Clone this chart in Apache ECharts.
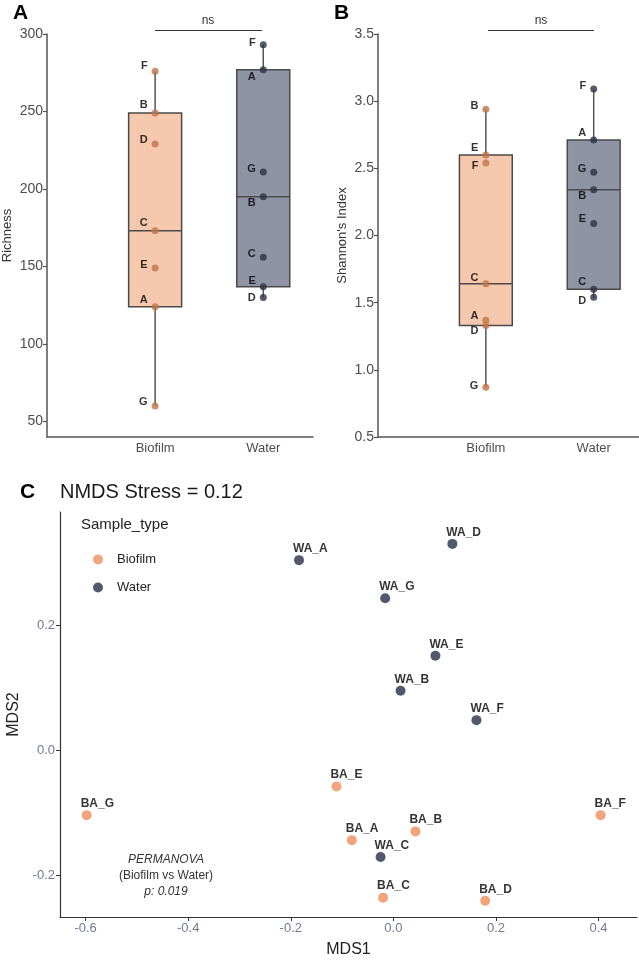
<!DOCTYPE html>
<html>
<head>
<meta charset="utf-8">
<script src="https://cdn.jsdelivr.net/npm/echarts@6/dist/echarts.min.js"></script>
<style>
  html, body { margin: 0; padding: 0; background: #fff; }
  #main { width: 639px; height: 960px; }
</style>
</head>
<body>
<div id="main"></div>
<script>
// data
var groups = ['Biofilm', 'Water'];
var sampleIds = ['A', 'B', 'C', 'D', 'E', 'F', 'G'];

// panel A - richness
var richnessBiofilm = [124, 249, 173, 229, 149, 276, 60];
var richnessWater = [277, 195, 156, 130, 137, 293, 211];
// panel B - shannon
var shannonBiofilm = [1.37, 2.94, 1.64, 1.33, 2.60, 2.54, 0.87];
var shannonWater = [2.71, 2.34, 1.60, 1.54, 2.09, 3.09, 2.47];

// panel C - NMDS
var biofilmNames = ['BA_A', 'BA_B', 'BA_C', 'BA_D', 'BA_E', 'BA_F', 'BA_G'];
var biofilmMDS1 = [-0.081, 0.043, -0.020, 0.179, -0.111, 0.404, -0.598];
var biofilmMDS2 = [-0.144, -0.130, -0.236, -0.241, -0.058, -0.104, -0.104];
var waterNames = ['WA_A', 'WA_B', 'WA_C', 'WA_D', 'WA_E', 'WA_F', 'WA_G'];
var waterMDS1 = [-0.184, 0.014, -0.025, 0.115, 0.082, 0.162, -0.016];
var waterMDS2 = [0.304, 0.095, -0.171, 0.330, 0.151, 0.048, 0.243];

// tick labels
var richTicks = [50, 100, 150, 200, 250, 300];
var shannonTicks = [0.5, 1, 1.5, 2, 2.5, 3, 3.5];
var mds1Ticks = [-0.6, -0.4, -0.2, 0, 0.2, 0.4];
var mds2Ticks = [-0.2, 0, 0.2];

// vertical nudge of the letter labels (px), order A..G
var nudgeRichBio = [-7, -8, -8, -4, -3, -5, -4];
var nudgeRichWat = [7, 6, -3, 0, -6, -2, -3];
var nudgeShanBio = [-4, -3, -6, 5, -7, 3, -1];
var nudgeShanWat = [-7, 6, -7, 4, -4, -3, -3];

var FONT = 'Liberation Sans';
var boxFill = ['#F6C8AD', '#8F94A4'];
var dotCol = ['#C27449', '#2C3245'];
var nmdsCol = ['#EF8F5B', '#263048'];

// quartiles (type 6) + whiskers, like the box in the figure
function q6(s, p) {
  var n = s.length, h = p * (n + 1), lo = Math.floor(h);
  if (lo < 1) return s[0];
  if (lo >= n) return s[n - 1];
  return s[lo - 1] + (h - lo) * (s[lo] - s[lo - 1]);
}
function boxStats(vals, x) {
  var s = vals.slice().sort(function(a, b){ return a - b; });
  var q1 = q6(s, 0.25), med = q6(s, 0.5), q3 = q6(s, 0.75), iqr = q3 - q1;
  var inR = s.filter(function(v){ return v >= q1 - 1.5 * iqr && v <= q3 + 1.5 * iqr; });
  return [x, inR[0], q1, med, q3, inR[inR.length - 1]];
}

function renderBox(params, api) {
  var x = api.value(0), half = 0.245;
  var pLo = api.coord([x, api.value(1)]);
  var pHi = api.coord([x, api.value(5)]);
  var a = api.coord([x - half, api.value(2)]);
  var b = api.coord([x + half, api.value(4)]);
  var mL = api.coord([x - half, api.value(3)]);
  var mR = api.coord([x + half, api.value(3)]);
  return {
    type: 'group',
    children: [
      { type: 'line', shape: { x1: pLo[0], y1: pLo[1], x2: pHi[0], y2: pHi[1] }, style: { stroke: '#555', lineWidth: 1.5 } },
      { type: 'rect', shape: { x: a[0], y: b[1], width: b[0] - a[0], height: a[1] - b[1] }, style: { fill: boxFill[params.dataIndex], stroke: '#4a4a4a', lineWidth: 1.5 } },
      { type: 'line', shape: { x1: mL[0], y1: mL[1], x2: mR[0], y2: mR[1] }, style: { stroke: '#4a4a4a', lineWidth: 1.5 } }
    ]
  };
}

function dotData(vals, x, nudge) {
  return vals.map(function(v, i){
    return { value: [x, v, sampleIds[i]], label: { offset: [0, nudge[i]] } };
  });
}
function nmdsData(xs, ys, names) {
  return xs.map(function(v, i){ return [v, ys[i], names[i]]; });
}

var dotLabel = {
  show: true, position: 'left', distance: 4,
  formatter: function(p){ return p.value[2]; },
  color: '#000', fontSize: 11, fontWeight: 'bold', fontFamily: FONT
};
var nmdsLabel = {
  show: true, position: 'top', distance: 0, align: 'left', verticalAlign: 'middle',
  offset: [-6, -6.5],
  formatter: function(p){ return p.value[2]; },
  color: '#000', fontSize: 12, fontWeight: 'bold', fontFamily: FONT
};

function boxYAxis(grid, min, max, ticks, name, gap, fmt) {
  return {
    type: 'value', gridIndex: grid, min: min, max: max,
    name: name, nameLocation: 'middle', nameGap: gap,
    nameTextStyle: { fontSize: 13, color: '#333', fontFamily: FONT },
    axisLine: { show: true, onZero: false, lineStyle: { color: '#555', width: 1.5 } },
    axisTick: { show: true, length: 4, customValues: ticks, lineStyle: { color: '#555', width: 1.2 } },
    axisLabel: { customValues: ticks, formatter: fmt, color: '#4d4d4d', fontSize: 14, margin: 4, fontFamily: FONT },
    splitLine: { show: false }
  };
}
function boxXAxis(grid, max) {
  return {
    type: 'value', gridIndex: grid, min: 0, max: max,
    axisLine: { show: true, onZero: false, lineStyle: { color: '#555', width: 1.5 } },
    axisTick: { show: false },
    axisLabel: { customValues: [1, 2], formatter: function(v){ return groups[Math.round(v) - 1]; },
      color: '#4d4d4d', fontSize: 13, margin: 5, fontFamily: FONT },
    splitLine: { show: false }
  };
}

var chart = echarts.init(document.getElementById('main'));
var option = {
  backgroundColor: '#fff',
  animation: false,
  textStyle: { fontFamily: FONT },
  grid: [
    { left: 47, top: 34, width: 266, height: 403, outerBoundsMode: 'none' },
    { left: 378, top: 34, width: 261, height: 403, outerBoundsMode: 'none' },
    { left: 60, top: 512, width: 577, height: 405, outerBoundsMode: 'none' }
  ],
  xAxis: [
    boxXAxis(0, 2.46),
    boxXAxis(1, 2.42),
    {
      type: 'value', gridIndex: 2, min: -0.65, max: 0.475,
      name: 'MDS1', nameLocation: 'middle', nameGap: 25,
      nameTextStyle: { fontSize: 16, color: '#222', fontFamily: FONT },
      axisLine: { show: true, onZero: false, lineStyle: { color: '#333', width: 1.2 } },
      axisTick: { show: true, length: 4, customValues: mds1Ticks, lineStyle: { color: '#333' } },
      axisLabel: { customValues: mds1Ticks, formatter: function(v){ return v.toFixed(1); },
        color: '#6E7B96', fontSize: 13, margin: 5, fontFamily: FONT },
      splitLine: { show: false }
    }
  ],
  yAxis: [
    boxYAxis(0, 40, 300, richTicks, 'Richness', 33, function(v){ return String(v); }),
    boxYAxis(1, 0.5, 3.5, shannonTicks, "Shannon's Index", 29, function(v){ return v.toFixed(1); }),
    {
      type: 'value', gridIndex: 2, min: -0.267, max: 0.381,
      name: 'MDS2', nameLocation: 'middle', nameGap: 37,
      nameTextStyle: { fontSize: 16, color: '#222', fontFamily: FONT },
      axisLine: { show: true, onZero: false, lineStyle: { color: '#333', width: 1.2 } },
      axisTick: { show: true, length: 4, customValues: mds2Ticks, lineStyle: { color: '#333' } },
      axisLabel: { customValues: mds2Ticks, formatter: function(v){ return v.toFixed(1); },
        color: '#6E7B96', fontSize: 13, margin: 5, fontFamily: FONT },
      splitLine: { show: false }
    }
  ],
  legend: {
    data: groups, orient: 'vertical', left: 88, top: 548,
    icon: 'circle', itemWidth: 10, itemHeight: 10, itemGap: 15,
    textStyle: { fontSize: 13, color: '#222', fontFamily: FONT, padding: [0, 0, 0, 9] },
    selectedMode: false
  },
  graphic: [
    { type: 'text', left: 13, top: 3, style: { text: 'A', fontSize: 21, fontWeight: 'bold', fill: '#000', fontFamily: FONT } },
    { type: 'text', left: 334, top: 3, style: { text: 'B', fontSize: 21, fontWeight: 'bold', fill: '#000', fontFamily: FONT } },
    { type: 'text', left: 20, top: 482, style: { text: 'C', fontSize: 21, fontWeight: 'bold', fill: '#000', fontFamily: FONT } },
    { type: 'text', left: 60, top: 482, style: { text: 'NMDS Stress = 0.12', fontSize: 20, fill: '#1a1a1a', fontFamily: FONT } },
    { type: 'text', left: 81, top: 517, style: { text: 'Sample_type', fontSize: 15, fill: '#222', fontFamily: FONT } },
    // ns brackets
    { type: 'line', shape: { x1: 155, y1: 30.5, x2: 262, y2: 30.5 }, style: { stroke: '#333', lineWidth: 1 } },
    { type: 'text', x: 208, y: 21, style: { text: 'ns', fontSize: 12, fill: '#333', align: 'center', verticalAlign: 'middle', fontFamily: FONT } },
    { type: 'line', shape: { x1: 488, y1: 30.5, x2: 594, y2: 30.5 }, style: { stroke: '#333', lineWidth: 1 } },
    { type: 'text', x: 541, y: 21, style: { text: 'ns', fontSize: 12, fill: '#333', align: 'center', verticalAlign: 'middle', fontFamily: FONT } },
    // PERMANOVA note
    { type: 'text', x: 166, y: 860, style: { text: 'PERMANOVA', fontSize: 12, fontStyle: 'italic', fill: '#333', align: 'center', verticalAlign: 'middle', fontFamily: FONT } },
    { type: 'text', x: 166, y: 876, style: { text: '(Biofilm vs Water)', fontSize: 12, fill: '#333', align: 'center', verticalAlign: 'middle', fontFamily: FONT } },
    { type: 'text', x: 166, y: 892, style: { text: 'p: 0.019', fontSize: 12, fontStyle: 'italic', fill: '#333', align: 'center', verticalAlign: 'middle', fontFamily: FONT } }
  ],
  series: [
    { type: 'custom', name: 'richness box', xAxisIndex: 0, yAxisIndex: 0, renderItem: renderBox,
      encode: { x: 0, y: [1, 2, 3, 4, 5] },
      data: [boxStats(richnessBiofilm, 1), boxStats(richnessWater, 2)] },
    { type: 'custom', name: 'shannon box', xAxisIndex: 1, yAxisIndex: 1, renderItem: renderBox,
      encode: { x: 0, y: [1, 2, 3, 4, 5] },
      data: [boxStats(shannonBiofilm, 1), boxStats(shannonWater, 2)] },
    { type: 'scatter', name: 'rich-Biofilm', xAxisIndex: 0, yAxisIndex: 0, symbolSize: 7,
      itemStyle: { color: dotCol[0] }, label: dotLabel, data: dotData(richnessBiofilm, 1, nudgeRichBio) },
    { type: 'scatter', name: 'rich-Water', xAxisIndex: 0, yAxisIndex: 0, symbolSize: 7,
      itemStyle: { color: dotCol[1] }, label: dotLabel, data: dotData(richnessWater, 2, nudgeRichWat) },
    { type: 'scatter', name: 'shan-Biofilm', xAxisIndex: 1, yAxisIndex: 1, symbolSize: 7,
      itemStyle: { color: dotCol[0] }, label: dotLabel, data: dotData(shannonBiofilm, 1, nudgeShanBio) },
    { type: 'scatter', name: 'shan-Water', xAxisIndex: 1, yAxisIndex: 1, symbolSize: 7,
      itemStyle: { color: dotCol[1] }, label: dotLabel, data: dotData(shannonWater, 2, nudgeShanWat) },
    { type: 'scatter', name: 'Biofilm', xAxisIndex: 2, yAxisIndex: 2, symbolSize: 10,
      itemStyle: { color: nmdsCol[0] }, label: nmdsLabel, data: nmdsData(biofilmMDS1, biofilmMDS2, biofilmNames) },
    { type: 'scatter', name: 'Water', xAxisIndex: 2, yAxisIndex: 2, symbolSize: 10,
      itemStyle: { color: nmdsCol[1] }, label: nmdsLabel, data: nmdsData(waterMDS1, waterMDS2, waterNames) }
  ]
};
chart.setOption(option);
</script>
</body>
</html>
